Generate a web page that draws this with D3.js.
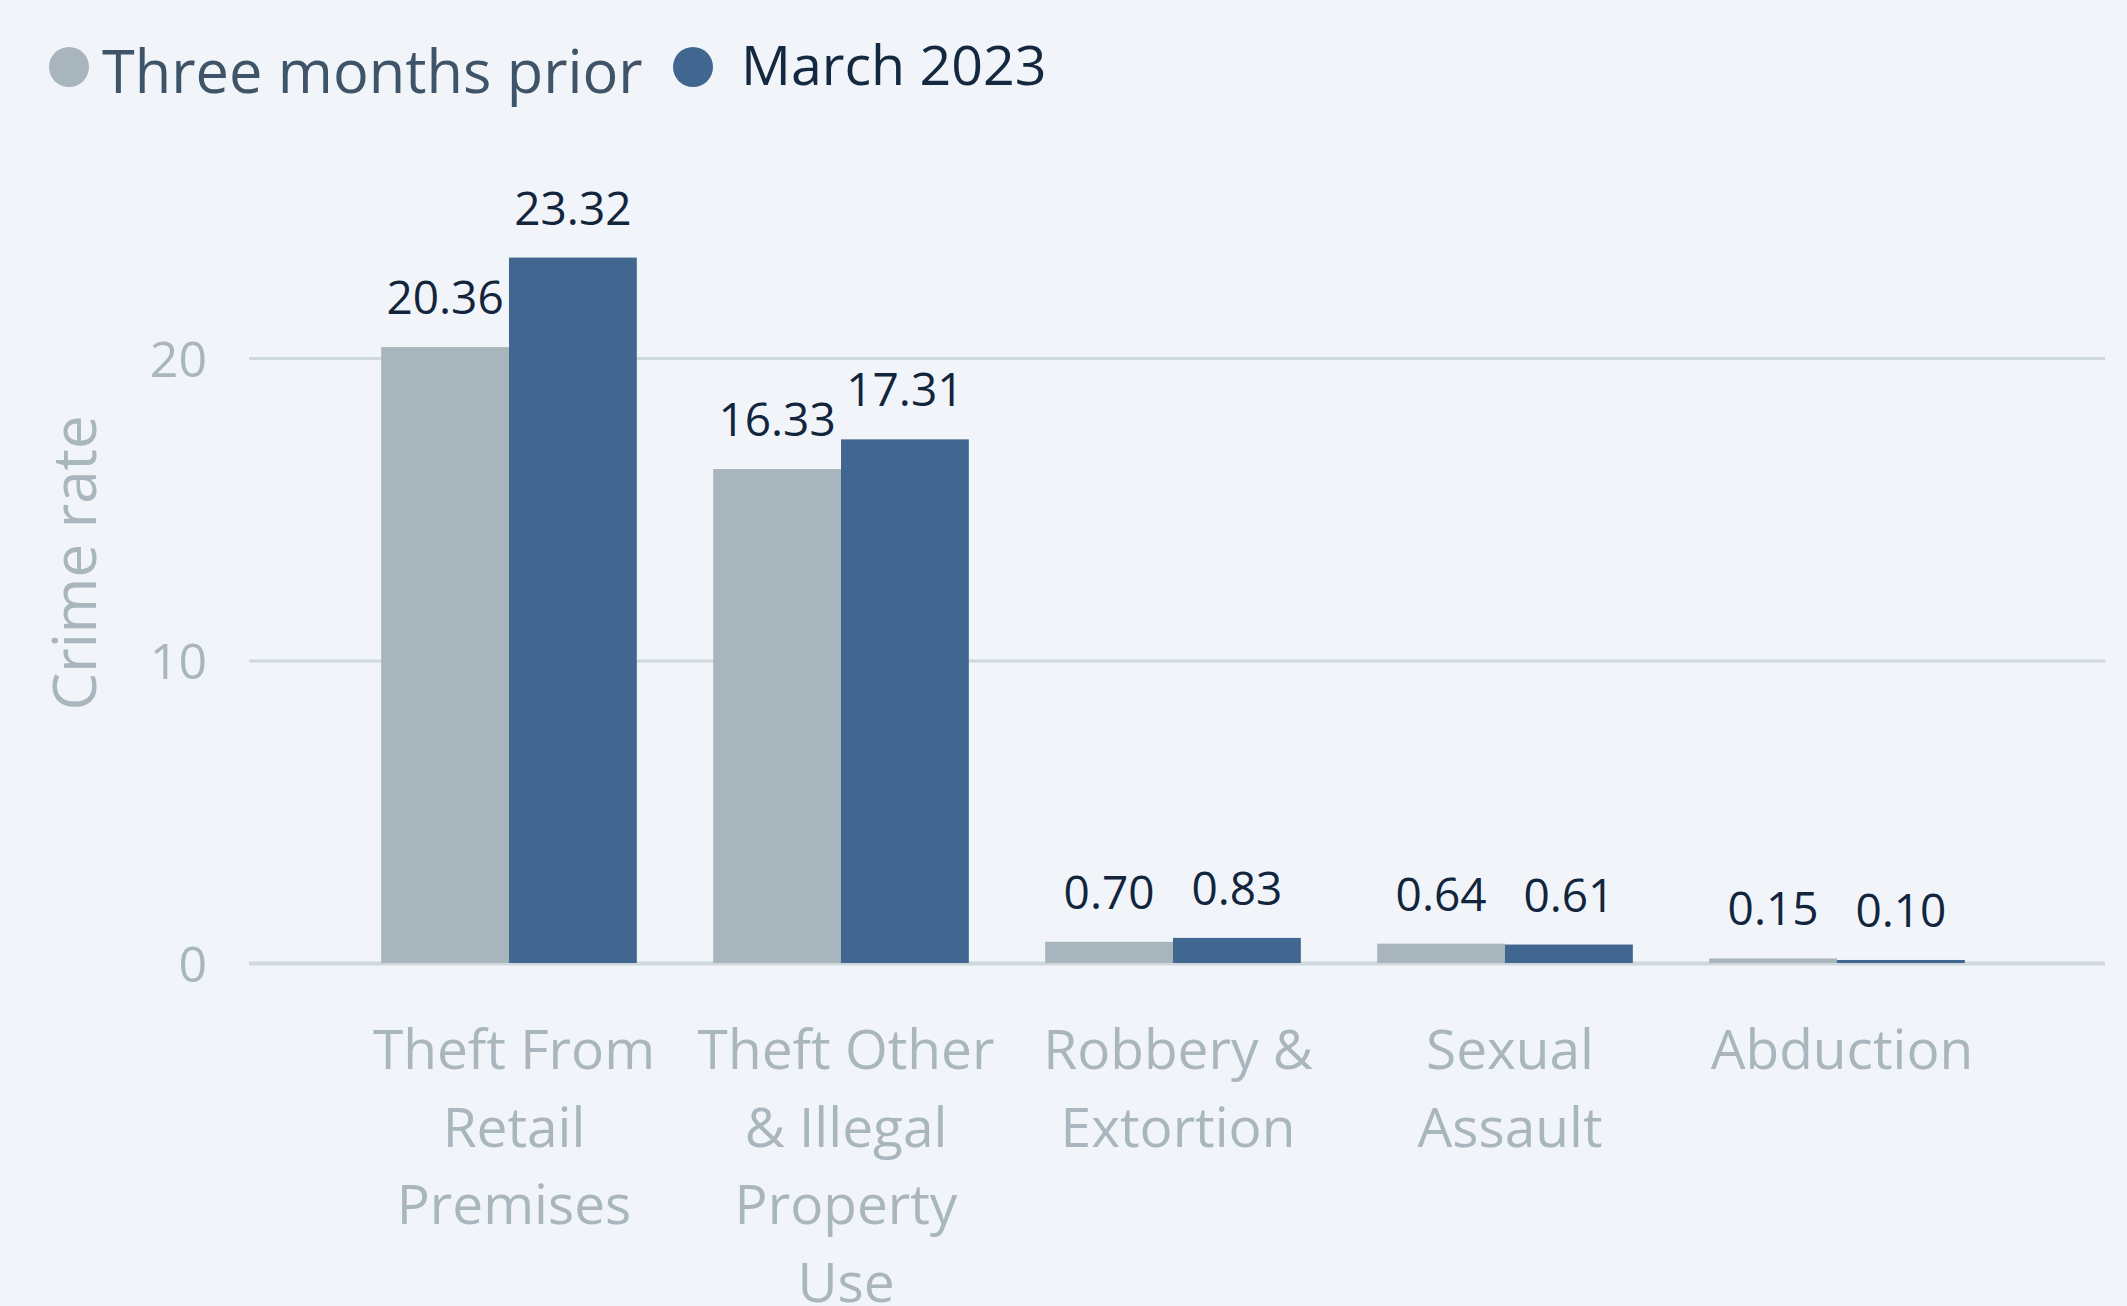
<!DOCTYPE html>
<html>
<head>
<meta charset="utf-8">
<script src="https://d3js.org/d3.v7.min.js"></script>
<style>
  html, body { margin: 0; padding: 0; background: #f1f5f9; }
  svg { display: block; font-family: "Open Sans", "Noto Sans", sans-serif; }
</style>
</head>
<body>
<div id="chart"></div>
<script>
  const categories = ["Theft From Retail Premises", "Theft Other & Illegal Property Use", "Robbery & Extortion", "Sexual Assault", "Abduction"];
  const seriesNames = ["Three months prior", "March 2023"];
  const priorValues = [20.36, 16.33, 0.70, 0.64, 0.15];
  const marchValues = [23.32, 17.31, 0.83, 0.61, 0.10];
  const yTicks = [0, 10, 20];
  const colors = ["#a8b5bd", "#41668f"];

  const W = 2127, H = 1306;
  const plot = {left: 249, right: 2105, top: 207, bottom: 963};
  const FONT = '"Open Sans", "Noto Sans", sans-serif';

  const svg = d3.select("#chart").append("svg")
      .attr("width", W)
      .attr("height", H);

  svg.append("rect").attr("width", W).attr("height", H).attr("fill", "#f1f5f9");

  const x = d3.scaleBand()
      .domain(categories)
      .range([343, 2003])
      .paddingInner(0.23)
      .paddingOuter(0.115);

  const x1 = d3.scaleBand()
      .domain(seriesNames)
      .range([0, x.bandwidth()]);

  const y = d3.scaleLinear()
      .domain([0, 25])
      .range([plot.bottom, plot.bottom - 25 * 30.25]);

  // y axis + gridlines
  const yAxis = svg.append("g")
      .attr("transform", "translate(" + plot.left + ",0)")
      .call(d3.axisLeft(y).tickValues(yTicks).tickSize(-(plot.right - plot.left)).tickPadding(42))
      .attr("font-family", FONT);
  yAxis.select(".domain").remove();
  yAxis.selectAll(".tick line")
      .attr("stroke", "#cfd8dd")
      .attr("stroke-width", d => d === 0 ? 4 : 3);
  yAxis.selectAll(".tick text")
      .attr("fill", "#a9b6bd")
      .attr("font-size", 50)
      .attr("dy", "0.36em");

  svg.append("text")
      .attr("transform", "translate(96,563) rotate(-90)")
      .attr("text-anchor", "middle")
      .attr("fill", "#a9b6bd")
      .attr("font-size", 60)
      .text("Crime rate");

  // bars
  const rows = categories.map((c, i) => ({cat: c, vals: [priorValues[i], marchValues[i]]}));

  const groups = svg.selectAll("g.group")
      .data(rows)
      .enter().append("g")
      .attr("class", "group")
      .attr("transform", d => "translate(" + x(d.cat) + ",0)");

  groups.selectAll("rect")
      .data(d => d.vals.map((v, j) => ({name: seriesNames[j], v: v, j: j})))
      .enter().append("rect")
      .attr("x", d => x1(d.name))
      .attr("y", d => y(d.v))
      .attr("width", x1.bandwidth())
      .attr("height", d => y(0) - y(d.v))
      .attr("fill", d => colors[d.j]);

  groups.selectAll("text.val")
      .data(d => d.vals.map((v, j) => ({name: seriesNames[j], v: v, j: j})))
      .enter().append("text")
      .attr("class", "val")
      .attr("x", d => x1(d.name) + x1.bandwidth() / 2)
      .attr("y", d => y(d.v) - 33)
      .attr("text-anchor", "middle")
      .attr("fill", "#13253d")
      .attr("font-size", 46)
      .text(d => d.v.toFixed(2));

  // x axis labels
  const xAxis = svg.append("g")
      .attr("transform", "translate(5," + plot.bottom + ")")
      .call(d3.axisBottom(x).tickSize(0))
      .attr("font-family", FONT);
  xAxis.select(".domain").remove();
  xAxis.selectAll(".tick text")
      .attr("fill", "#a9b6bd")
      .attr("font-size", 55)
      .attr("y", 106)
      .attr("dy", 0)
      .call(wrap, x.step() - 8);

  function wrap(sel, width) {
    sel.each(function() {
      const text = d3.select(this);
      const words = text.text().split(/\s+/);
      const yy = text.attr("y");
      let line = [];
      let lineNo = 0;
      text.text(null);
      let tspan = text.append("tspan").attr("x", 0).attr("y", yy).attr("dy", 0);
      words.forEach(w => {
        line.push(w);
        tspan.text(line.join(" "));
        if (tspan.node().getComputedTextLength() > width && line.length > 1) {
          line.pop();
          tspan.text(line.join(" "));
          line = [w];
          lineNo++;
          tspan = text.append("tspan").attr("x", 0).attr("y", yy)
              .attr("dy", (lineNo * 77.7) + "px").text(w);
        }
      });
    });
  }

  // legend
  const legendPos = [{cx: 69, tx: 102, ty: 93, size: 59.5, color: "#3f5468"},
                     {cx: 693, tx: 741, ty: 85, size: 55.5, color: "#14293f"}];
  const legend = svg.selectAll("g.legend")
      .data(seriesNames)
      .enter().append("g")
      .attr("class", "legend");
  legend.append("circle")
      .attr("cx", (d, i) => legendPos[i].cx)
      .attr("cy", 67)
      .attr("r", 20)
      .attr("fill", (d, i) => colors[i]);
  legend.append("text")
      .attr("x", (d, i) => legendPos[i].tx)
      .attr("y", (d, i) => legendPos[i].ty)
      .attr("font-size", (d, i) => legendPos[i].size)
      .attr("fill", (d, i) => legendPos[i].color)
      .text(d => d);
</script>
</body>
</html>
